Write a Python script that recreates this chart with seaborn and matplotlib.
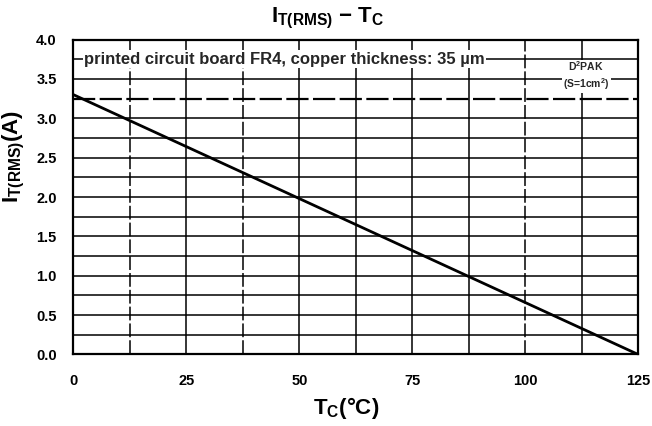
import pandas as pd
import seaborn as sns
import matplotlib.pyplot as plt

# data
tc = [0, 125]
it_rms = [3.3, 0.0]
d2pak_limit = 3.25

x_ticks = [0, 25, 50, 75, 100, 125]
y_ticks = [0.0, 0.5, 1.0, 1.5, 2.0, 2.5, 3.0, 3.5, 4.0]
x_grid = [12.5, 25, 37.5, 50, 62.5, 75, 87.5, 100, 112.5]
x_grid_dashed = [12.5, 37.5, 100]
y_grid = [0.25, 0.5, 0.75, 1.0, 1.25, 1.5, 1.75, 2.0, 2.25, 2.5, 2.75, 3.0, 3.5, 3.75]

sns.set_theme(style='white')
plt.rcParams['font.family'] = ['Liberation Sans', 'DejaVu Sans']
plt.rcParams['font.weight'] = 'bold'
plt.rcParams['mathtext.fontset'] = 'custom'
plt.rcParams['mathtext.rm'] = 'Liberation Sans:bold'
plt.rcParams['mathtext.bf'] = 'Liberation Sans:bold'
plt.rcParams['mathtext.it'] = 'Liberation Sans:bold'

fig = plt.figure(figsize=(6.52, 4.26), dpi=100)
ax = fig.add_axes([0.1127, 0.168, 0.866, 0.739])

# grid
for x in x_grid:
    if x in x_grid_dashed:
        ax.axvline(x, color='black', lw=1.1, ls=(0, (9, 2)), zorder=1)
    else:
        ax.axvline(x, color='black', lw=1.1, zorder=1)
for y in y_grid:
    ax.axhline(y, color='black', lw=1.1, zorder=1)
ax.axhline(d2pak_limit, color='black', lw=1.6, ls=(0, (10, 2)), zorder=1)

df = pd.DataFrame({'tc': tc, 'it': it_rms})
sns.lineplot(data=df, x='tc', y='it', color='black', lw=2, ax=ax, zorder=3)

ax.text(2.3, 3.75, 'printed circuit board FR4, copper thickness: 35 µm', fontsize=12,
        fontweight='bold', va='center', ha='left', zorder=4,
        bbox=dict(facecolor='white', edgecolor='none', pad=1))
ax.text(113.5, 3.54, 'D$^2$PAK\n(S=1cm$^2$)', fontsize=7.5, fontweight='bold',
        va='center', ha='center', linespacing=1.25, zorder=4,
        bbox=dict(facecolor='white', edgecolor='none', pad=1))

ax.set_xlim(0, 125)
ax.set_ylim(0, 4.0)
ax.set_xticks(x_ticks)
ax.set_yticks(y_ticks)
ax.set_xticklabels([str(t) for t in x_ticks])
ax.set_yticklabels([f'{t:.1f}' for t in y_ticks])
ax.tick_params(axis='both', length=0, labelsize=10.5, colors='black')
ax.tick_params(axis='x', pad=14)
ax.tick_params(axis='y', pad=12)
for s in ax.spines.values():
    s.set_color('black')
    s.set_linewidth(1.6)

ax.set_xlabel(r'T$_\mathrm{C}$(°C)', fontsize=16, fontweight='bold', color='black', va='center')
ax.xaxis.set_label_coords(0.483, -0.17)
ax.set_ylabel(r'I$_\mathrm{T(RMS)}$(A)', fontsize=16, fontweight='bold', color='black',
              va='center', ha='center')
ax.yaxis.set_label_coords(-0.105, 0.63)

fig.text(328 / 652, 1 - 18 / 426, r'I$_\mathrm{T(RMS)}$ $-$ T$_\mathrm{C}$', fontsize=16,
         fontweight='bold', ha='center', va='center', color='black')

fig.savefig('out.png', dpi=100)
